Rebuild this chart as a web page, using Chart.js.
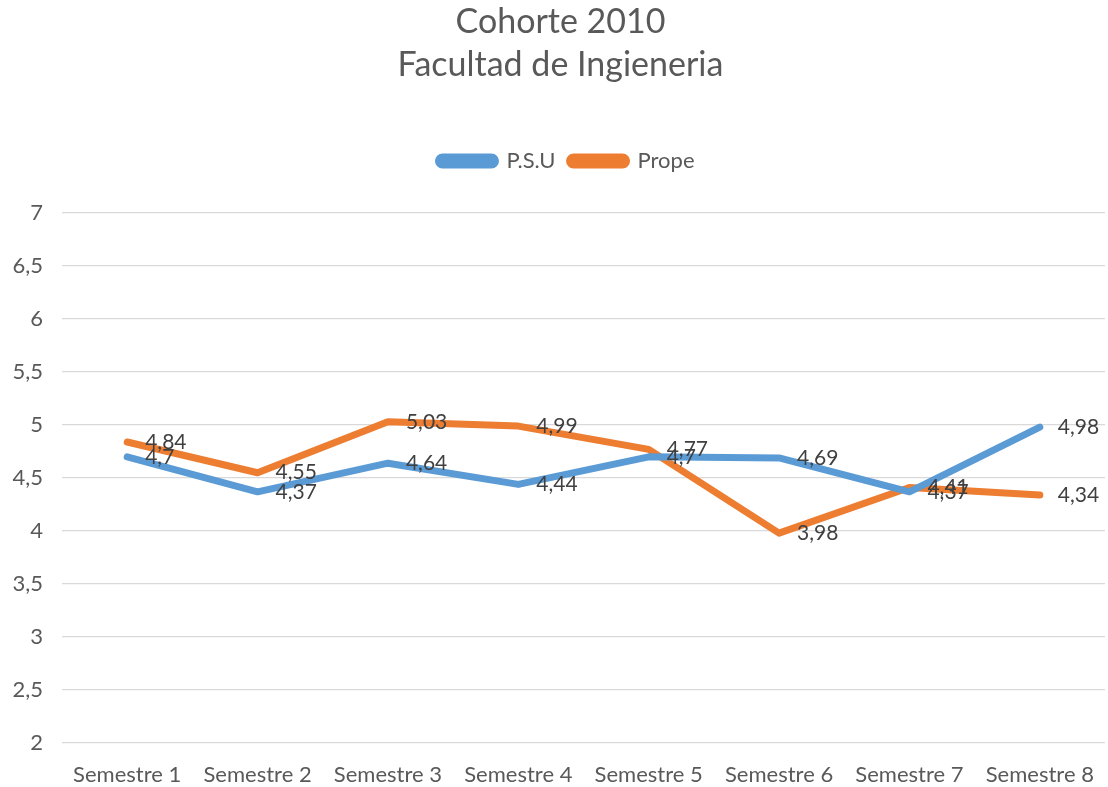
<!DOCTYPE html>
<html>
<head>
<meta charset="utf-8">
<script src="https://cdn.jsdelivr.net/npm/chart.js@4"></script>
<style>
  body { margin: 0; background: #fff; }
</style>
</head>
<body>
<canvas id="cohorte-chart" width="1108" height="787"></canvas>
<script>
// Data
const semesters = ['Semestre 1', 'Semestre 2', 'Semestre 3', 'Semestre 4', 'Semestre 5', 'Semestre 6', 'Semestre 7', 'Semestre 8'];
const psuValues = [4.7, 4.37, 4.64, 4.44, 4.7, 4.69, 4.37, 4.98];
const propeValues = [4.84, 4.55, 5.03, 4.99, 4.77, 3.98, 4.41, 4.34];
const titleLines = ['Cohorte 2010', 'Facultad de Ingieneria'];

const fontFamily = 'Lato, "Open Sans", sans-serif';
const toComma = v => String(v).replace('.', ',');

// Draw value labels to the right of each point
const valueLabels = {
  id: 'valueLabels',
  afterDatasetsDraw(chart) {
    const ctx = chart.ctx;
    ctx.save();
    ctx.font = '21px ' + fontFamily;
    ctx.fillStyle = '#404040';
    ctx.textAlign = 'left';
    ctx.textBaseline = 'middle';
    chart.data.datasets.forEach((ds, i) => {
      chart.getDatasetMeta(i).data.forEach((pt, j) => {
        ctx.fillText(toComma(ds.data[j]), pt.x + 18, pt.y);
      });
    });
    ctx.restore();
  }
};

// Extra space below the legend, and nudge title / legend a bit to the right
const legendSpace = {
  id: 'legendSpace',
  beforeInit(chart) {
    const fit = chart.legend.fit;
    chart.legend.fit = function () {
      fit.bind(this)();
      this.height += 31;
    };
  },
  afterLayout(chart) {
    chart.titleBlock.left += 16;
    chart.legend.left += 28;
  }
};

const ctx = document.getElementById('cohorte-chart').getContext('2d');

const myChart = new Chart(ctx, {
  type: 'line',
  data: {
    labels: semesters,
    datasets: [
      {
        label: 'P.S.U',
        data: psuValues,
        borderColor: '#5B9BD5',
        backgroundColor: '#5B9BD5',
        borderWidth: 7,
        pointRadius: 0,
        tension: 0,
        borderCapStyle: 'round',
        borderJoinStyle: 'round'
      },
      {
        label: 'Prope',
        data: propeValues,
        borderColor: '#ED7D31',
        backgroundColor: '#ED7D31',
        borderWidth: 7,
        pointRadius: 0,
        tension: 0,
        borderCapStyle: 'round',
        borderJoinStyle: 'round'
      }
    ]
  },
  options: {
    responsive: false,
    animation: false,
    layout: { padding: { left: 0, right: 3, top: 0, bottom: 0 } },
    scales: {
      x: {
        offset: true,
        afterFit(scale) { scale.height = 44; },
        grid: { display: false },
        border: { display: false },
        ticks: {
          color: '#595959',
          font: { size: 22, family: fontFamily },
          padding: 11,
          maxRotation: 0
        }
      },
      y: {
        min: 2,
        max: 7,
        afterFit(scale) { scale.width = 62; },
        grid: { color: '#d9d9d9', lineWidth: 1.3, drawTicks: false },
        border: { display: false },
        ticks: {
          stepSize: 0.5,
          color: '#595959',
          font: { size: 22, family: fontFamily },
          padding: 19,
          callback: v => toComma(v)
        }
      }
    },
    plugins: {
      title: {
        display: true,
        text: titleLines,
        color: '#595959',
        font: { size: 34, family: fontFamily, weight: 'normal', lineHeight: 1.28 },
        padding: { top: 0, bottom: 49 }
      },
      legend: {
        display: true,
        position: 'top',
        labels: {
          color: '#595959',
          font: { size: 22, family: fontFamily },
          boxWidth: 57,
          boxHeight: 8,
          useBorderRadius: true,
          borderRadius: 4,
          padding: 14
        }
      },
      tooltip: { enabled: false }
    }
  },
  plugins: [valueLabels, legendSpace]
});
</script>
</body>
</html>
